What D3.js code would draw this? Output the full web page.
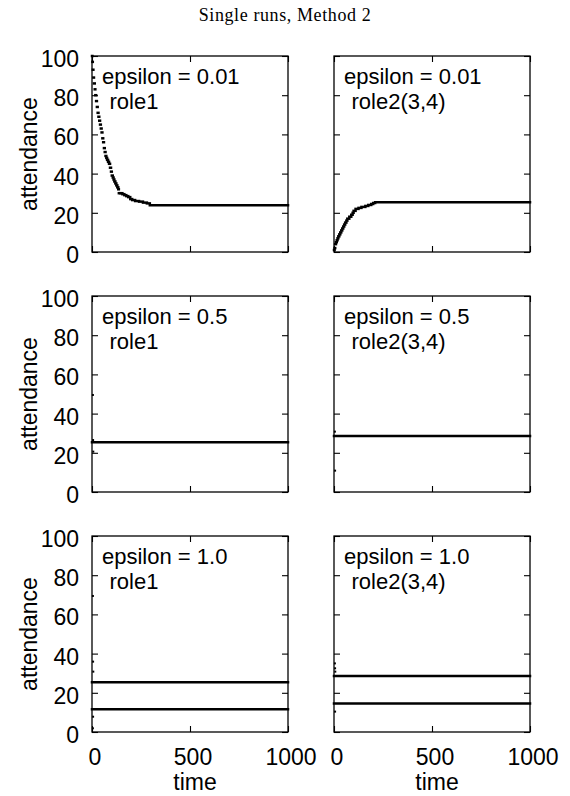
<!DOCTYPE html>
<html>
<head>
<meta charset="utf-8">
<script src="https://cdn.jsdelivr.net/npm/d3@7"></script>
<style>
  body { margin: 0; background: #fff; }
  svg { display: block; }
  text { font-family: "Liberation Sans", Arial, sans-serif; fill: #000; }
</style>
</head>
<body>
<div id="chart"></div>
<script>
const timeTicks = [0, 500, 1000];
const attendanceTicks = [0, 20, 40, 60, 80, 100];
const epsilonLabels = ["0.01", "0.5", "1.0"];
const roleLabels = ["role1", "role2(3,4)"];

// step series: [time, attendance] where the value changes
const role1Eps001 = [[0, 100], [2, 97], [4, 93], [7, 89], [10, 86], [14, 83], [17, 80], [21, 77], [25, 74],
  [29, 71], [33, 69], [37, 67], [41, 65], [45, 63], [49, 61], [53, 58], [57, 56], [61, 53], [65, 51],
  [69, 49], [73, 48], [77, 47], [82, 46], [87, 45], [92, 43], [97, 41], [101, 39], [106, 38], [110, 37],
  [114, 36], [119, 35], [124, 34], [129, 33], [134, 32], [137, 30], [145, 30], [155, 29.5], [165, 29],
  [175, 28.5], [185, 28], [195, 27], [205, 26.5], [220, 26], [240, 25.7], [260, 25.2], [280, 24.8], [295, 23.8]];
const role2Eps001 = [[0, 1], [3, 2], [6, 4], [10, 5], [14, 6], [18, 7], [22, 8], [27, 9], [32, 10], [37, 11],
  [42, 12], [47, 13], [52, 14], [57, 15], [63, 16], [68, 17], [78, 18], [88, 19], [95, 20], [100, 21],
  [110, 22], [125, 22.5], [140, 23], [160, 23.5], [175, 24], [190, 24.5], [200, 25], [210, 25.4]];
const role1Eps05 = [[0, 25.4]];
const role2Eps05 = [[0, 28.6]];
const role1Eps10Upper = [[0, 25.4]];
const role1Eps10Lower = [[0, 11.6]];
const role2Eps10Upper = [[0, 28.6]];
const role2Eps10Lower = [[0, 14.6]];

// early single points
const role1Eps05Dots = [[2, 49.5], [3, 26.5], [4, 20.6]];
const role2Eps05Dots = [[2, 30.8], [3, 10.9]];
const role1Eps10Dots = [[2, 69.4], [3, 35.9], [4, 30.8], [3, 7.8], [2, 1.9]];
const role2Eps10Dots = [[2, 35], [3, 32.5], [4, 30.8], [3, 10.4]];

const panels = [
  { row: 0, col: 0, lines: [role1Eps001], dots: [] },
  { row: 0, col: 1, lines: [role2Eps001], dots: [] },
  { row: 1, col: 0, lines: [role1Eps05], dots: role1Eps05Dots },
  { row: 1, col: 1, lines: [role2Eps05], dots: role2Eps05Dots },
  { row: 2, col: 0, lines: [role1Eps10Upper, role1Eps10Lower], dots: role1Eps10Dots },
  { row: 2, col: 1, lines: [role2Eps10Upper, role2Eps10Lower], dots: role2Eps10Dots },
];

const colLeft = [92, 334];
const rowTop = [56, 296, 536];
const size = 196;

const svg = d3.select('#chart')
  .append('svg')
  .attr('width', 570)
  .attr('height', 796);

svg.append('text')
  .attr('x', 285)
  .attr('y', 21)
  .attr('text-anchor', 'middle')
  .style('font-family', '"Liberation Serif", "DejaVu Serif", serif')
  .style('font-size', '18px')
  .style('letter-spacing', '0.6px')
  .text('Single runs, Method 2');

panels.forEach((p) => {
  const g = svg.append('g')
    .attr('transform', `translate(${colLeft[p.col]},${rowTop[p.row]})`);

  const x = d3.scaleLinear().domain([0, 1000]).range([0, size]);
  const y = d3.scaleLinear().domain([0, 100]).range([size, 0]);

  // inward ticks on all four sides
  const left = g.append('g')
    .call(d3.axisLeft(y).tickValues(attendanceTicks).tickSize(-6).tickSizeOuter(0).tickPadding(12)
      .tickFormat(p.col === 0 ? d3.format('d') : ''));
  const right = g.append('g').attr('transform', `translate(${size},0)`)
    .call(d3.axisRight(y).tickValues(attendanceTicks).tickSize(-6).tickSizeOuter(0).tickFormat(''));
  const top = g.append('g')
    .call(d3.axisTop(x).tickValues(timeTicks).tickSize(-6).tickSizeOuter(0).tickFormat(''));
  const bottom = g.append('g').attr('transform', `translate(0,${size})`)
    .call(d3.axisBottom(x).tickValues(timeTicks).tickSize(-6).tickSizeOuter(0)
      .tickFormat(p.row === 2 ? d3.format('d') : ''));

  [left, right, top, bottom].forEach((a) => {
    a.select('.domain').remove();
    a.selectAll('line').attr('stroke', '#000').attr('stroke-width', 1.1);
    a.selectAll('text').style('font-size', '23px').attr('fill', '#000')
      .style('font-family', '"Liberation Sans", Arial, sans-serif');
  });
  left.selectAll('text').attr('dy', null).attr('y', 10.5).attr('x', -13);
  bottom.selectAll('text').attr('dy', null).attr('y', 33).attr('dx', 2.5);

  g.append('rect')
    .attr('width', size)
    .attr('height', size)
    .attr('fill', 'none')
    .attr('stroke', '#000')
    .attr('stroke-width', 1.3);

  // each step drawn as a flat piece until the next change
  p.lines.forEach((series) => {
    g.append('g').selectAll('line')
      .data(series)
      .join('line')
      .attr('x1', (d) => x(d[0]))
      .attr('x2', (d, i) => x(i + 1 < series.length ? series[i + 1][0] : 1000))
      .attr('y1', (d) => y(d[1]))
      .attr('y2', (d) => y(d[1]))
      .attr('stroke', '#000')
      .attr('stroke-width', 2.5)
      .attr('stroke-linecap', 'square');
  });

  g.append('g').selectAll('rect')
    .data(p.dots)
    .join('rect')
    .attr('x', (d) => x(d[0]) - 0.5)
    .attr('y', (d) => y(d[1]) - 1)
    .attr('width', 2)
    .attr('height', 2)
    .attr('fill', '#000');

  // two-line key
  g.append('text')
    .attr('x', 10)
    .attr('y', 28)
    .style('font-size', '22px')
    .text(`epsilon = ${epsilonLabels[p.row]}`);
  g.append('text')
    .attr('x', 17.5)
    .attr('y', 53)
    .style('font-size', '22px')
    .text(roleLabels[p.col]);

  if (p.col === 0) {
    g.append('text')
      .attr('transform', `translate(-55.5,${size / 2}) rotate(-90)`)
      .attr('text-anchor', 'middle')
      .style('font-size', '23px')
      .text('attendance');
  }
  if (p.row === 2) {
    g.append('text')
      .attr('x', size / 2 + 5)
      .attr('y', size + 58)
      .attr('text-anchor', 'middle')
      .style('font-size', '23px')
      .text('time');
  }
});
</script>
</body>
</html>
